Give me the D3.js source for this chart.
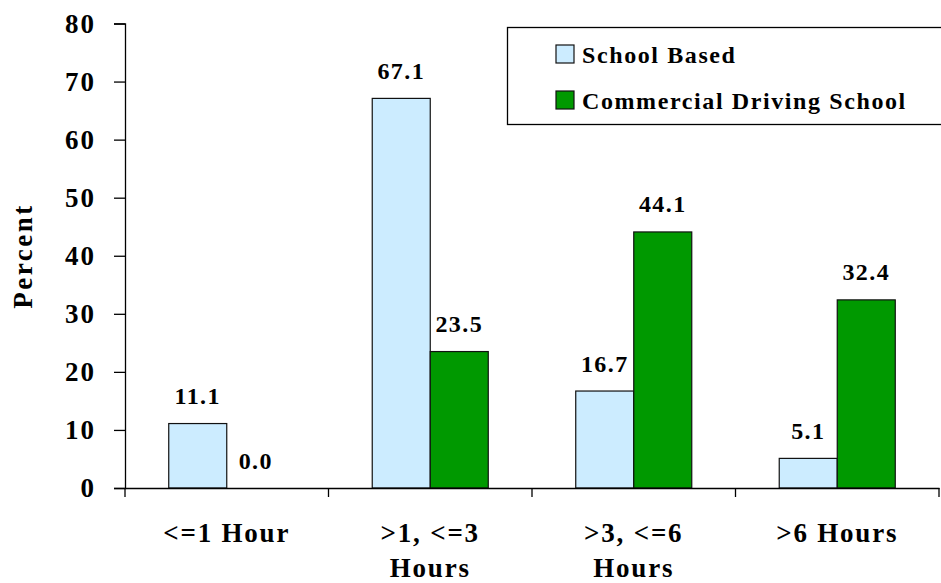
<!DOCTYPE html>
<html>
<head>
<meta charset="utf-8">
<style>
  body { margin: 0; background: #fff; }
  svg text { font-family: "Liberation Serif", "Times New Roman", serif; font-weight: bold; fill: #000; }
</style>
</head>
<body>
<div id="chart"></div>
<script src="https://d3js.org/d3.v7.min.js"></script>
<script>
// data
var categories = [["<=1 Hour"], [">1, <=3", "Hours"], [">3, <=6", "Hours"], [">6 Hours"]];
var seriesNames = ["School Based", "Commercial Driving School"];
var schoolBased = [11.1, 67.1, 16.7, 5.1];
var commercial = [0.0, 23.5, 44.1, 32.4];
var yTicks = [0, 10, 20, 30, 40, 50, 60, 70, 80];
var colors = ["#CCECFF", "#009900"];

var width = 941, height = 583;
var margin = {top: 23.5, right: 2, bottom: 95, left: 125};

var svg = d3.select("#chart").append("svg")
  .attr("width", width)
  .attr("height", height);

var catKeys = categories.map(function(d) { return d.join(" "); });

var x = d3.scaleBand()
  .domain(catKeys)
  .range([margin.left, width - margin.right])
  .padding(0);

var xInner = d3.scaleBand()
  .domain(seriesNames)
  .range([0, x.bandwidth()])
  .paddingInner(0)
  .paddingOuter(0.754);

var y = d3.scaleLinear()
  .domain([0, 80])
  .range([height - margin.bottom, margin.top]);

var rows = [];
catKeys.forEach(function(c, i) {
  rows.push({cat: c, series: seriesNames[0], value: schoolBased[i], color: colors[0]});
  rows.push({cat: c, series: seriesNames[1], value: commercial[i], color: colors[1]});
});

// y axis
var yAxis = d3.axisLeft(y).tickValues(yTicks).tickSize(11).tickPadding(18).tickFormat(d3.format("d"));
var gy = svg.append("g")
  .attr("transform", "translate(" + margin.left + ",0)")
  .call(yAxis);
gy.select(".domain").attr("stroke", "#000").attr("stroke-width", 1.3);
gy.selectAll(".tick line").attr("stroke", "#000").attr("stroke-width", 1.3);
gy.selectAll("text")
  .attr("font-size", "27px")
  .attr("font-family", "Liberation Serif")
  .attr("font-weight", "bold")
  .attr("letter-spacing", "2px")
  .attr("fill", "#000");

// bars
svg.append("g").selectAll("rect")
  .data(rows)
  .enter().append("rect")
  .attr("x", function(d) { return x(d.cat) + xInner(d.series); })
  .attr("y", function(d) { return y(d.value); })
  .attr("width", xInner.bandwidth())
  .attr("height", function(d) { return y(0) - y(d.value); })
  .attr("fill", function(d) { return d.color; })
  .attr("stroke", function(d) { return d.value > 0 ? "#111" : "none"; })
  .attr("stroke-width", 1.2);

// value labels
svg.append("g").selectAll("text")
  .data(rows)
  .enter().append("text")
  .attr("x", function(d) { return x(d.cat) + xInner(d.series) + xInner.bandwidth() / 2; })
  .attr("y", function(d) { return y(d.value) - 19.5; })
  .attr("text-anchor", "middle")
  .attr("font-size", "24px")
  .attr("letter-spacing", "1.4px")
  .text(function(d) { return d.value.toFixed(1); });

// x axis: line with ticks at category boundaries
var xAxis = d3.axisBottom(x).tickSize(0).tickFormat("");
var gx = svg.append("g")
  .attr("transform", "translate(0," + y(0) + ")")
  .call(xAxis);
gx.select(".domain").attr("stroke", "#000").attr("stroke-width", 1.3);
var bounds = catKeys.map(function(c) { return x(c); }).concat([x.range()[1]]);
gx.selectAll(".bound")
  .data(bounds)
  .enter().append("line")
  .attr("x1", function(d) { return d; })
  .attr("x2", function(d) { return d; })
  .attr("y1", 0)
  .attr("y2", 9)
  .attr("stroke", "#000")
  .attr("stroke-width", 1.3);

// category labels
var catLabels = svg.append("g").selectAll("text")
  .data(categories)
  .enter().append("text")
  .attr("x", function(d, i) { return x(catKeys[i]) + x.bandwidth() / 2; })
  .attr("y", 542)
  .attr("text-anchor", "middle")
  .attr("font-size", "27px")
  .attr("letter-spacing", "1.8px");
catLabels.selectAll("tspan")
  .data(function(d, i) { return d.map(function(t) { return {t: t, cx: x(catKeys[i]) + x.bandwidth() / 2}; }); })
  .enter().append("tspan")
  .attr("x", function(d) { return d.cx; })
  .attr("dy", function(d, j) { return j === 0 ? 0 : 35; })
  .text(function(d) { return d.t; });

// y axis title
svg.append("text")
  .attr("transform", "translate(32,256) rotate(-90)")
  .attr("text-anchor", "middle")
  .attr("font-size", "27px")
  .attr("letter-spacing", "2.5px")
  .text("Percent");

// legend
var legend = svg.append("g");
legend.append("rect")
  .attr("x", 507.5)
  .attr("y", 27.5)
  .attr("width", 450)
  .attr("height", 97)
  .attr("fill", "#fff")
  .attr("stroke", "#000")
  .attr("stroke-width", 1.3);
var items = legend.selectAll(".item")
  .data(seriesNames)
  .enter().append("g")
  .attr("transform", function(d, i) { return "translate(556," + (45 + i * 46) + ")"; });
items.append("rect")
  .attr("width", 18)
  .attr("height", 18)
  .attr("fill", function(d, i) { return colors[i]; })
  .attr("stroke", "#111")
  .attr("stroke-width", 1.2);
items.append("text")
  .attr("x", 26)
  .attr("y", 18)
  .attr("font-size", "24px")
  .attr("letter-spacing", "1.6px")
  .text(function(d) { return d; });
</script>
</body>
</html>
